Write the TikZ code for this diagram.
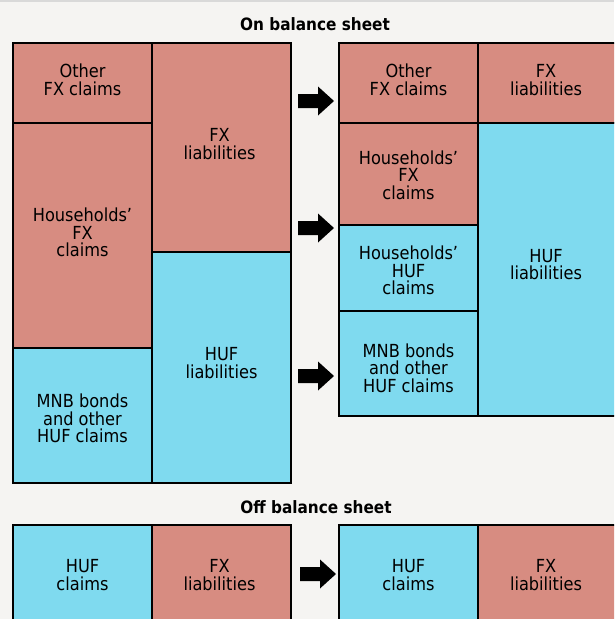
\documentclass[tikz,border=0pt]{standalone}
\usepackage{fontspec}
\setmainfont{DejaVu Sans Condensed}
\begin{document}
\begin{tikzpicture}[x=1pt,y=-1pt,
  fxbox/.style={draw=black,line width=2pt,fill=fxred,rectangle,inner sep=0pt},
  hufbox/.style={fxbox,fill=hufblue},
  txt/.style={align=center,inner sep=0pt,font=\fontsize{18}{17.5}\selectfont},
  heading/.style={font=\bfseries\fontsize{17}{18}\selectfont,inner sep=0pt},
  pics/fatarrow/.style={code={
    \fill[black] (-18,-7) -- (2,-7) -- (2,-14.5) -- (18,0) -- (2,14.5) -- (2,7) -- (-18,7) -- cycle;}}]
\definecolor{fxred}{HTML}{D78C81}
\definecolor{hufblue}{HTML}{7FDAEF}
\definecolor{paper}{HTML}{F5F4F2}
% page and its frame line
\fill[paper] (0,0) rectangle (614,619);
\useasboundingbox (0,0) rectangle (614,619);
\clip (0,0) rectangle (614,619);
\fill[black!15] (0,0) rectangle (614,1.5);

% --- on balance sheet ---
\node[heading] (t1) at (315,24) {On balance sheet};

% before: claims column
\node[fxbox,minimum width=139,minimum height=80] (a1) at (82.5,83) {};
\node[fxbox,minimum width=139,minimum height=225] (a2) at (82.5,235.5) {};
\node[hufbox,minimum width=139,minimum height=135] (a3) at (82.5,415.5) {};
% before: liabilities column
\node[fxbox,minimum width=139,minimum height=209] (b1) at (221.5,147.5) {};
\node[hufbox,minimum width=139,minimum height=231] (b2) at (221.5,367.5) {};

% after: claims column
\node[fxbox,minimum width=139,minimum height=80] (c1) at (408.5,83) {};
\node[fxbox,minimum width=139,minimum height=102] (c2) at (408.5,174) {};
\node[hufbox,minimum width=139,minimum height=86] (c3) at (408.5,268) {};
\node[hufbox,minimum width=139,minimum height=105] (c4) at (408.5,363.5) {};
% after: liabilities column
\node[fxbox,minimum width=140,minimum height=80] (d1) at (548,83) {};
\node[hufbox,minimum width=140,minimum height=293] (d2) at (548,269.5) {};

% box texts
\node[txt] (a1t) at ([yshift=3pt]a1.center) {Other\\FX claims};
\node[txt] (a2t) at ([yshift=3pt]a2.center) {Households'\\FX\\claims};
\node[txt] (a3t) at ([yshift=-3pt]a3.center) {MNB bonds\\and other\\HUF claims};
\node[txt] (b1t) at ([yshift=3.5pt,xshift=-2pt]b1.center) {FX\\liabilities};
\node[txt] (b2t) at ([yshift=4.5pt]b2.center) {HUF\\liabilities};
\node[txt] (c1t) at ([yshift=3pt]c1.center) {Other\\FX claims};
\node[txt] (c2t) at ([yshift=-1pt]c2.center) {Households'\\FX\\claims};
\node[txt] (c3t) at ([yshift=-2.5pt]c3.center) {Households'\\HUF\\claims};
\node[txt] (c4t) at ([yshift=-4.5pt]c4.center) {MNB bonds\\and other\\HUF claims};
\node[txt] (d1t) at ([yshift=3pt,xshift=-2pt]d1.center) {FX\\liabilities};
\node[txt] (d2t) at ([yshift=5pt,xshift=-2pt]d2.center) {HUF\\liabilities};

\pic at (316,101) {fatarrow};
\pic at (316,228) {fatarrow};
\pic at (316,376) {fatarrow};

% --- off balance sheet ---
\node[heading] (t2) at (316,507) {Off balance sheet};
\node[hufbox,minimum width=139,minimum height=110] (e1) at (82.5,580) {};
\node[fxbox,minimum width=139,minimum height=110] (e2) at (221.5,580) {};
\node[hufbox,minimum width=139,minimum height=110] (f1) at (408.5,580) {};
\node[fxbox,minimum width=140,minimum height=110] (f2) at (548,580) {};
\node[txt] (e1t) at ([yshift=5pt]e1.center) {HUF\\claims};
\node[txt] (e2t) at ([yshift=5pt,xshift=-2pt]e2.center) {FX\\liabilities};
\node[txt] (f1t) at ([yshift=5pt]f1.center) {HUF\\claims};
\node[txt] (f2t) at ([yshift=5pt,xshift=-2pt]f2.center) {FX\\liabilities};

\pic at (318,574) {fatarrow};
\end{tikzpicture}
\end{document}
